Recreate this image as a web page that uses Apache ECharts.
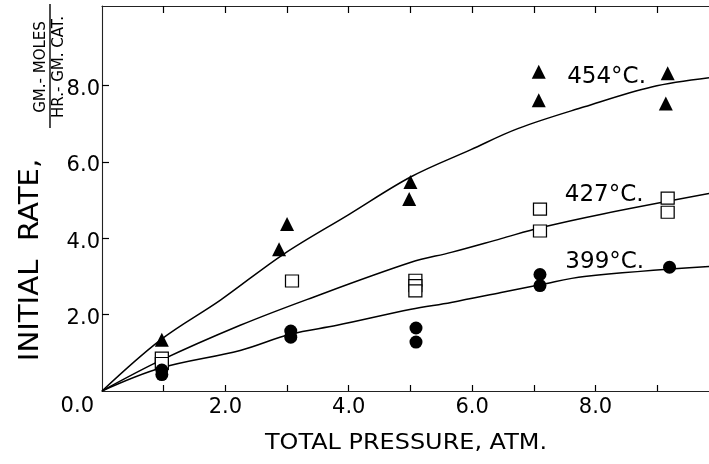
<!DOCTYPE html>
<html>
<head>
<meta charset="utf-8">
<script src="https://cdn.jsdelivr.net/npm/echarts@6/dist/echarts.min.js"></script>
<style>
  html, body { margin: 0; padding: 0; background: #ffffff; }
  #chart { width: 709px; height: 464px; }
</style>
</head>
<body>
<div id="chart"></div>
<script>
// Axis ticks and labels
const xTickValues = [1, 2, 3, 4, 5, 6, 7, 8, 9];
const xLabelValues = [2, 4, 6, 8];
const yTickValues = [2, 4, 6, 8];
const yLabelValues = [0, 2, 4, 6, 8];

// Measured initial rates [pressure atm, rate]
const rate454 = [[0.97, 1.34], [2.87, 3.71], [3.0, 4.37], [5.0, 5.47], [4.98, 5.03],
                 [7.08, 8.36], [7.08, 7.61], [9.17, 8.32], [9.14, 7.53]];
const rate427 = [[0.97, 0.86], [0.97, 0.72], [3.08, 2.88], [5.08, 2.9], [5.08, 2.76], [5.08, 2.62],
                 [7.1, 4.76], [7.1, 4.19], [9.17, 5.05], [9.17, 4.68]];
const rate399 = [[0.97, 0.55], [0.97, 0.43], [3.06, 1.57], [3.06, 1.41], [5.09, 1.65], [5.09, 1.28],
                 [7.1, 3.05], [7.1, 2.76], [9.2, 3.24]];

// Smoothed curves through each temperature's data
const curve454 = [[0, 0], [0.95, 1.34], [1.92, 2.38], [2.94, 3.58], [4.0, 4.62], [5.01, 5.61],
                  [5.98, 6.32], [6.74, 6.87], [7.82, 7.44], [8.91, 7.96], [9.84, 8.2]];
const curve427 = [[0, 0], [0.95, 0.8], [2.24, 1.72], [3.33, 2.4], [5.01, 3.37], [5.66, 3.63],
                  [6.47, 3.99], [7.12, 4.28], [8.1, 4.63], [9.84, 5.17]];
const curve399 = [[0, 0], [0.95, 0.6], [2.24, 1.06], [3.06, 1.49], [3.81, 1.72], [5.01, 2.14],
                  [5.66, 2.32], [6.47, 2.58], [7.12, 2.79], [7.82, 3.0], [9.84, 3.26]];

// Temperature captions, placed in data coordinates
const tempLabels = [[8.18, 8.22, '454°C.'], [8.14, 5.13, '427°C.'], [8.15, 3.38, '399°C.']];

const INK = '#000000';
const FONT = 'DejaVu Sans';

const chart = echarts.init(document.getElementById('chart'), null, { renderer: 'canvas' });

const curveSeries = (data) => ({
  type: 'line',
  data: data,
  smooth: 0.35,
  showSymbol: false,
  symbol: 'none',
  lineStyle: { color: INK, width: 1.5 },
  z: 2
});

const baseX = {
  type: 'value',
  min: 0,
  max: 9.84,
  splitLine: { show: false },
  axisLine: { show: true, lineStyle: { color: '#222222', width: 1.1 } }
};

chart.setOption({
  animation: false,
  backgroundColor: '#ffffff',
  grid: { left: 102, top: 6, right: 0, bottom: 73, containLabel: false },
  xAxis: [
    Object.assign({}, baseX, {
      position: 'bottom',
      axisTick: { show: true, inside: true, length: 6, customValues: xTickValues,
                  lineStyle: { color: INK, width: 1.2 } },
      axisLabel: {
        show: true, customValues: xLabelValues, margin: 6,
        formatter: (v) => v.toFixed(1),
        fontFamily: FONT, fontSize: 21, color: INK
      }
    }),
    Object.assign({}, baseX, {
      position: 'top',
      axisTick: { show: true, inside: true, length: 7, customValues: xTickValues,
                  lineStyle: { color: INK, width: 1.2 } },
      axisLabel: { show: false }
    })
  ],
  yAxis: {
    type: 'value',
    min: 0,
    max: 10.08,
    splitLine: { show: false },
    axisLine: { show: true, lineStyle: { color: '#222222', width: 1.1 } },
    axisTick: { show: true, inside: true, length: 7, customValues: yTickValues,
                lineStyle: { color: INK, width: 1.2 } },
    axisLabel: {
      show: true, customValues: yLabelValues, margin: 2,
      formatter: (v) => v === 0 ? '{z|0.0}' : '{n|' + v.toFixed(1) + '}',
      rich: {
        n: { fontFamily: FONT, fontSize: 21, color: INK, padding: [8, 0, 0, 0] },
        z: { fontFamily: FONT, fontSize: 21, color: INK, padding: [32, 6, 0, 0] }
      }
    }
  },
  graphic: [
    {
      type: 'text', x: 31, y: 260, rotation: Math.PI / 2, scaleX: 1.08,
      style: { text: 'INITIAL  RATE,', font: '27px "DejaVu Sans"', fill: INK,
               align: 'center', verticalAlign: 'middle' }
    },
    {
      type: 'text', x: 41, y: 67, rotation: Math.PI / 2,
      style: { text: 'GM.- MOLES', font: '15px "DejaVu Sans"', fill: INK,
               align: 'center', verticalAlign: 'middle' }
    },
    {
      type: 'line', shape: { x1: 50, y1: 4, x2: 50, y2: 128 },
      style: { stroke: INK, lineWidth: 1.4 }
    },
    {
      type: 'text', x: 59, y: 67, rotation: Math.PI / 2,
      style: { text: 'HR.- GM. CAT.', font: '15px "DejaVu Sans"', fill: INK,
               align: 'center', verticalAlign: 'middle' }
    },
    {
      type: 'text', x: 406, y: 444, scaleX: 1.14,
      style: { text: 'TOTAL PRESSURE, ATM.', font: '21px "DejaVu Sans"', fill: INK,
               align: 'center', verticalAlign: 'middle' }
    }
  ],
  series: [
    curveSeries(curve454),
    curveSeries(curve427),
    curveSeries(curve399),
    {
      type: 'scatter', name: '454°C.', data: rate454, symbol: 'triangle', symbolSize: 14,
      itemStyle: { color: INK, opacity: 1 }, z: 3
    },
    {
      type: 'scatter', name: '427°C.', data: rate427, symbol: 'rect', symbolSize: [13, 12],
      itemStyle: { color: '#ffffff', borderColor: INK, borderWidth: 1.2, opacity: 1 }, z: 3
    },
    {
      type: 'scatter', name: '399°C.', data: rate399, symbol: 'circle', symbolSize: 13,
      itemStyle: { color: INK, opacity: 1 }, z: 3
    },
    {
      type: 'scatter', data: tempLabels, symbolSize: 1,
      itemStyle: { color: 'rgba(0,0,0,0)', opacity: 1 },
      label: {
        show: true, position: 'inside', formatter: (p) => p.data[2],
        fontFamily: FONT, fontSize: 23, color: INK
      },
      z: 4
    }
  ]
});
</script>
</body>
</html>
